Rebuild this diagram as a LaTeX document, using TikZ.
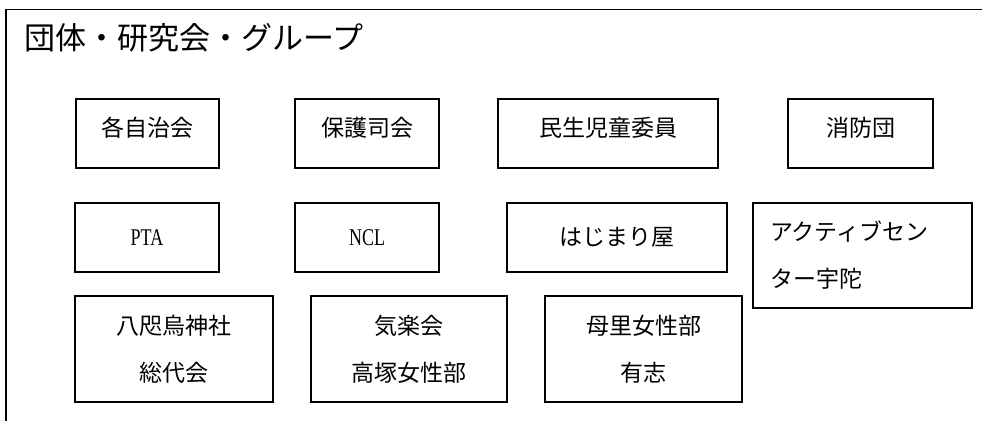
\documentclass[tikz,border=0pt]{standalone}
\usepackage{fontspec}
\setmainfont{Liberation Serif}
\newfontfamily\jpfont{Noto Sans CJK JP}
\newfontfamily\latinfont[FakeStretch=0.75]{Liberation Serif}

\begin{document}
\begin{tikzpicture}[x=1pt, y=-1pt,
  grpbox/.style={draw, rectangle, line width=1.1pt, minimum height=69pt, inner sep=0pt,
    font=\jpfont\fontsize{23}{47}\selectfont, align=center},
  toprow/.style={grpbox, text height=20pt, text depth=15pt},
  tallbox/.style={grpbox, minimum height=106pt},
  latinbox/.style={grpbox, font=\latinfont\fontsize{24}{28}\selectfont}]
\useasboundingbox (0,0) rectangle (982,421);
% outer frame and title
\draw[line width=1.3pt] (982,9.5) -- (6,9.5) -- (6,421);
\node[anchor=west, inner sep=0pt, font=\jpfont\fontsize{31}{31}\selectfont] (title) at (24,38) {団体・研究会・グループ};

% first row
\node[toprow, minimum width=143pt] (jichikai) at (147.5,133.5) {各自治会};
\node[toprow, minimum width=144pt] (hogoshi) at (367,133.5) {保護司会};
\node[toprow, minimum width=220pt] (minsei) at (608,133.5) {民生児童委員};
\node[toprow, minimum width=145pt] (shobo) at (860.5,133.5) {消防団};

% second row
\node[latinbox, minimum width=144pt] (pta) at (147,237.5) {PTA};
\node[latinbox, minimum width=144pt] (ncl) at (367,237.5) {NCL};
\node[grpbox, minimum width=220pt] (hajimari) at (617,237.5) {はじまり屋};
\node[grpbox, minimum width=219pt, minimum height=105pt, text width=185pt, align=left] (active) at (862.5,255.5) {アクティブセン\\ター宇陀};

% third row
\node[tallbox, minimum width=198pt] (yata) at (174,349) {八咫烏神社\\総代会};
\node[tallbox, minimum width=196pt] (kiraku) at (409,349) {気楽会\\高塚女性部};
\node[tallbox, minimum width=197pt] (hori) at (643.5,349) {母里女性部\\有志};
\end{tikzpicture}
\end{document}
